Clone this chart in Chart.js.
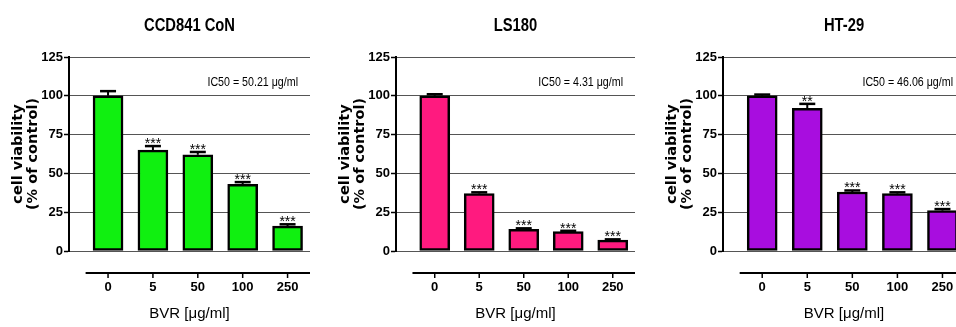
<!DOCTYPE html>
<html>
<head>
<meta charset="utf-8">
<script src="https://cdn.jsdelivr.net/npm/chart.js@4.4.1/dist/chart.umd.min.js"></script>
<style>
  html, body { margin: 0; padding: 0; background: #fff; overflow: hidden; width: 956px; height: 327px; }
  canvas { position: absolute; top: 0; }
</style>
</head>
<body>
<canvas id="ccd" width="318" height="327" style="left:0px"></canvas>
<canvas id="ls" width="316" height="327" style="left:327px"></canvas>
<canvas id="ht" width="319" height="327" style="left:654px"></canvas>
<script>
const doses = ['0', '5', '50', '100', '250'];
const yTicks = [0, 25, 50, 75, 100, 125];

const ccdValues = [100, 65, 62, 43, 16];
const ccdErrors = [3, 2.6, 1.8, 1.4, 1.2];
const ccdStars = ['', '***', '***', '***', '***'];

const lsValues = [100, 37, 14, 12.5, 7];
const lsErrors = [1, 0.8, 0.6, 0.5, 0.5];
const lsStars = ['', '***', '***', '***', '***'];

const htValues = [100, 92, 38, 37, 26];
const htErrors = [0.8, 2.8, 1, 0.8, 1];
const htStars = ['', '**', '***', '***', '***'];

const SANS = "'Liberation Sans', Arial, sans-serif";
const WIDE = "'DejaVu Sans', Verdana, sans-serif";

// no narrow font here, so squeeze the text a bit
function narrowText(ctx, text, x, y, font, align) {
    ctx.save();
    ctx.translate(x, y);
    ctx.scale(0.82, 1);
    ctx.font = font;
    ctx.textAlign = align;
    ctx.textBaseline = 'middle';
    ctx.fillText(text, 0, 0);
    ctx.restore();
}

// error bars, stars, titles and the detached x axis line
const extras = {
    id: 'extras',
    afterDatasetsDraw(chart, args, opts) {
        const ctx = chart.ctx;
        const area = chart.chartArea;
        const x = chart.scales.x;
        const y = chart.scales.y;
        ctx.save();
        ctx.strokeStyle = '#000';
        ctx.fillStyle = '#000';
        opts.values.forEach((v, i) => {
            const px = x.getPixelForValue(i);
            const top = y.getPixelForValue(v);
            const cap = y.getPixelForValue(v + opts.errors[i]);
            ctx.lineWidth = 2;
            ctx.beginPath();
            ctx.moveTo(px, top);
            ctx.lineTo(px, cap);
            ctx.stroke();
            ctx.lineWidth = 2.5;
            ctx.beginPath();
            ctx.moveTo(px - 8, cap);
            ctx.lineTo(px + 8, cap);
            ctx.stroke();
            if (opts.stars[i]) {
                ctx.font = '14px ' + SANS;
                ctx.textAlign = 'center';
                ctx.textBaseline = 'alphabetic';
                ctx.fillText(opts.stars[i], px, cap + 2);
            }
        });

        // x axis drawn apart from the plot
        const ly = area.bottom + 22;
        ctx.lineWidth = 2;
        ctx.beginPath();
        ctx.moveTo(x.getPixelForValue(-0.5), ly);
        ctx.lineTo(x.getPixelForValue(doses.length - 0.5), ly);
        ctx.stroke();
        ctx.lineWidth = 1.5;
        doses.forEach((d, i) => {
            const px = x.getPixelForValue(i);
            ctx.beginPath();
            ctx.moveTo(px, ly);
            ctx.lineTo(px, ly + 5);
            ctx.stroke();
        });

        narrowText(ctx, opts.title, (area.left + area.right) / 2, 26, 'bold 18px ' + SANS, 'center');
        narrowText(ctx, opts.ic50, area.right - 12, area.top + 25, '13px ' + SANS, 'right');
        ctx.restore();
    }
};

function makePanel(id, title, ic50, values, errors, stars, color) {
    new Chart(document.getElementById(id), {
        type: 'bar',
        data: {
            datasets: [{
                data: values.map((v, i) => ({ x: i, y: v })),
                backgroundColor: color,
                borderColor: '#000',
                borderWidth: 2.5,
                borderSkipped: false,
                barThickness: 30
            }]
        },
        options: {
            responsive: false,
            animation: false,
            events: [],
            layout: { padding: { left: 0, right: 8, top: 57, bottom: 0 } },
            plugins: {
                legend: { display: false },
                tooltip: { enabled: false },
                extras: { title: title, ic50: ic50, values: values, errors: errors, stars: stars }
            },
            scales: {
                x: {
                    type: 'linear',
                    offset: false,
                    min: -0.87,
                    max: doses.length - 0.5,
                    afterBuildTicks: s => { s.ticks = doses.map((d, i) => ({ value: i })); },
                    afterFit: s => { s.height = 76; },
                    // hidden tick marks only push the labels down
                    grid: { display: false, drawTicks: true, tickLength: 29 },
                    border: { display: false },
                    ticks: {
                        callback: v => doses[v],
                        color: '#000',
                        padding: 0,
                        maxRotation: 0,
                        autoSkip: false,
                        font: { family: SANS, size: 13, weight: 'bold' }
                    },
                    title: {
                        display: true,
                        text: 'BVR [μg/ml]',
                        color: '#000',
                        padding: { top: 0, bottom: 4 },
                        font: { family: SANS, size: 15 }
                    }
                },
                y: {
                    min: 0,
                    max: 125,
                    afterBuildTicks: s => { s.ticks = yTicks.map(v => ({ value: v })); },
                    afterFit: s => { s.width = 69; },
                    grid: { color: '#555', lineWidth: 1, tickColor: '#000', tickLength: 5, tickWidth: 1.5 },
                    border: { color: '#000', width: 2 },
                    ticks: {
                        color: '#000',
                        padding: 1,
                        font: { family: SANS, size: 13, weight: 'bold' }
                    },
                    title: {
                        display: true,
                        text: ['cell viability', '(% of control)'],
                        color: '#000',
                        padding: { top: 10, bottom: 0 },
                        font: { family: WIDE, size: 14.5, weight: 'bold', lineHeight: 1.07 }
                    }
                }
            }
        },
        plugins: [extras]
    });
}

makePanel('ccd', 'CCD841 CoN', 'IC50 = 50.21 μg/ml', ccdValues, ccdErrors, ccdStars, '#10f010');
makePanel('ls', 'LS180', 'IC50 = 4.31 μg/ml', lsValues, lsErrors, lsStars, '#ff1a7f');
makePanel('ht', 'HT-29', 'IC50 = 46.06 μg/ml', htValues, htErrors, htStars, '#a80ddf');
</script>
</body>
</html>
